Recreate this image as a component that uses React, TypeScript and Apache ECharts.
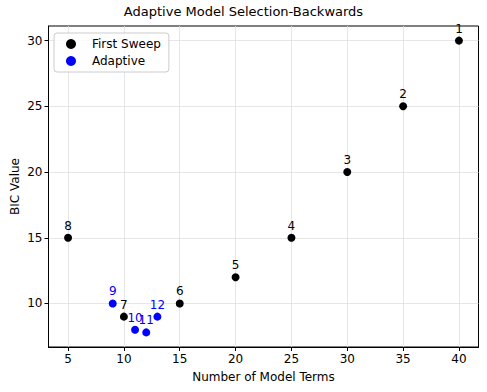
import React, { useEffect, useRef } from "react";
import * as echarts from "echarts";

const firstSweepTerms = [40, 35, 30, 25, 20, 15, 10, 5];
const firstSweepBIC = [30, 25, 20, 15, 12, 10, 9, 15];
const firstSweepLabels = ["1", "2", "3", "4", "5", "6", "7", "8"];

const adaptiveTerms = [9, 11, 12, 13];
const adaptiveBIC = [10, 8, 7.8, 9];
const adaptiveLabels = ["9", "10", "11", "12"];

const xTicks = [5, 10, 15, 20, 25, 30, 35, 40];
const yTicks = [10, 15, 20, 25, 30];

const FONT = "DejaVu Sans";

export default function App() {
  const ref = useRef<HTMLDivElement>(null);
  useEffect(() => {
    if (!ref.current) return;
    const chart = echarts.init(ref.current, undefined, { renderer: "svg" });
    const mk = (xs: number[], ys: number[], ls: string[]) =>
      xs.map((x, i) => ({ value: [x, ys[i]], label: { formatter: ls[i] } }));
    chart.setOption({
      animation: false,
      textStyle: { fontFamily: FONT },
      title: {
        text: "Adaptive Model Selection-Backwards",
        left: "center",
        top: 0,
        textStyle: { fontFamily: FONT, fontSize: 13, fontWeight: "normal", color: "#000" },
      },
      legend: {
        orient: "vertical",
        left: 54,
        top: 33,
        padding: [5, 8, 5, 12],
        itemWidth: 10,
        itemHeight: 10,
        itemGap: 5,
        borderColor: "#cccccc",
        borderWidth: 1,
        borderRadius: 3,
        backgroundColor: "rgba(255,255,255,0.8)",
        textStyle: { fontFamily: FONT, fontSize: 12, color: "#000", padding: [0, 0, 0, 11] },
        data: [
          { name: "First Sweep", icon: "circle" },
          { name: "Adaptive", icon: "circle" },
        ],
      },
      grid: {
        left: 48.5,
        right: 8.5,
        top: 26,
        bottom: 45,
        show: true,
        borderColor: "#000",
        borderWidth: 1,
        backgroundColor: "transparent",
        containLabel: false,
        outerBoundsMode: "none",
      },
      xAxis: {
        type: "value",
        min: 3.25,
        max: 41.75,
        name: "Number of Model Terms",
        nameLocation: "middle",
        nameGap: 24,
        nameTextStyle: { fontFamily: FONT, fontSize: 12, color: "#000" },
        axisLine: { show: true, lineStyle: { color: "#000", width: 1 } },
        axisTick: { show: true, length: 4, lineStyle: { color: "#000" }, customValues: xTicks },
        axisLabel: {
          fontFamily: FONT,
          fontSize: 12,
          color: "#000",
          margin: 6,
          customValues: xTicks,
        },
        splitLine: { show: true, lineStyle: { color: "#e0e0e0", width: 0.8 } },
      },
      yAxis: {
        type: "value",
        min: 6.69,
        max: 31.11,
        name: "BIC Value",
        nameLocation: "middle",
        nameGap: 28,
        nameMoveOverlap: false,
        nameTextStyle: { fontFamily: FONT, fontSize: 12, color: "#000" },
        axisLine: { show: true, lineStyle: { color: "#000", width: 1 } },
        axisTick: { show: true, length: 4, lineStyle: { color: "#000" }, customValues: yTicks },
        axisLabel: {
          fontFamily: FONT,
          fontSize: 12,
          color: "#000",
          margin: 6,
          customValues: yTicks,
        },
        splitLine: { show: true, lineStyle: { color: "#e0e0e0", width: 0.8 } },
      },
      series: [
        {
          name: "First Sweep",
          type: "scatter",
          symbolSize: 8,
          itemStyle: { color: "#000", opacity: 1 },
          data: mk(firstSweepTerms, firstSweepBIC, firstSweepLabels),
          label: {
            show: true,
            position: "top",
            distance: 2,
            fontFamily: FONT,
            fontSize: 12,
            color: "#000",
          },
        },
        {
          name: "Adaptive",
          type: "scatter",
          symbolSize: 8,
          itemStyle: { color: "#0000ff", opacity: 1 },
          data: mk(adaptiveTerms, adaptiveBIC, adaptiveLabels),
          label: {
            show: true,
            position: "top",
            distance: 2,
            fontFamily: FONT,
            fontSize: 12,
            color: "#0000ff",
          },
        },
      ],
    });
    return () => chart.dispose();
  }, []);
  return <div ref={ref} style={{ width: 487, height: 392, position: "absolute", left: 0, top: 0 }} />;
}
